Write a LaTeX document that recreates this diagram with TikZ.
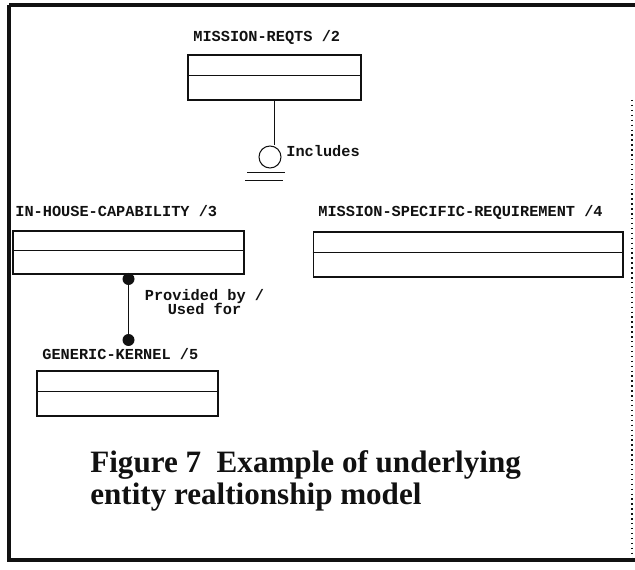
\documentclass[tikz,border=0pt]{standalone}
\usepackage{fontspec}
\setmainfont{Liberation Serif}
\newfontfamily\ermono{Liberation Mono}
\usetikzlibrary{positioning}
\definecolor{Ink}{HTML}{111111}
\tikzset{
  entity/.style={draw=Ink,line width=.6pt,minimum height=.9cm,inner sep=0pt},
  entname/.style={anchor=base west,inner sep=0pt,font=\ermono\bfseries\fontsize{8.7}{9}\selectfont,text=Ink},
  reltext/.style={inner sep=0pt,align=center,font=\ermono\bfseries\fontsize{8.7}{8.5}\selectfont,text=Ink},
  assoc/.style={circle,draw=Ink,line width=.6pt,minimum size=.44cm,inner sep=0pt},
  card/.style={circle,fill=Ink,inner sep=0pt,minimum size=.24cm},
  relline/.style={draw=Ink,line width=.6pt},
  frameline/.style={draw=Ink,line width=2.6pt}
}
\begin{document}
\begin{tikzpicture}[x=.02cm,y=-.02cm]
  \useasboundingbox (0,0) rectangle (635,570);
  % page frame
  \draw[frameline] (9,5) -- (635,5);
  \draw[frameline] (9,5) -- (9,560) -- (635,560);
  \draw[Ink,line width=.8pt,dotted] (632,100) -- (632,558);

  % entities
  \node[entity,minimum width=3.46cm] (reqts) at (274.5,77.5) {};
  \node[entity,minimum width=4.62cm,minimum height=.86cm] (inhouse) at (128.5,252.5) {};
  \node[entity,minimum width=6.2cm] (specific) at (468,254.5) {};
  \node[entity,minimum width=3.62cm] (kernel) at (127.5,393.5) {};
  \foreach \e in {reqts,inhouse,specific,kernel}
    \draw[relline] ([yshift=.04cm]\e.west) -- ([yshift=.04cm]\e.east);

  \node[entname] (reqtsname) at (193,42) {MISSION-REQTS /2};
  \node[entname] (inhousename) at (15,217) {IN-HOUSE-CAPABILITY /3};
  \node[entname] (specificname) at (318,217) {MISSION-SPECIFIC-REQUIREMENT /4};
  \node[entname] (kernelname) at (42,360) {GENERIC-KERNEL /5};

  % includes
  \node[assoc] (incl) at (270,157) {};
  \draw[relline] (reqts.south) -- (reqts.south |- incl.north);
  \draw[relline] ([shift={(-23,4)}]incl.south) -- ++(38,0);
  \draw[relline] ([shift={(-25,12)}]incl.south) -- ++(38,0);
  \node[entname] (incltext) at (286,157) {Includes};

  % provided by / used for
  \node[card] (provtop) at (128.5,279) {};
  \node[card] (provbot) at (128.5,340) {};
  \draw[relline] (provtop) -- (provbot);
  \node[reltext,anchor=base] (provtext) at (204.5,315) {Provided by /\\Used for};

  \node[anchor=base west,inner sep=0pt,align=left,text=Ink,font=\bfseries\fontsize{17.7}{18.1}\selectfont] (caption) at (90,504) {Figure 7\ \ Example of underlying\\entity realtionship model};
\end{tikzpicture}
\end{document}
